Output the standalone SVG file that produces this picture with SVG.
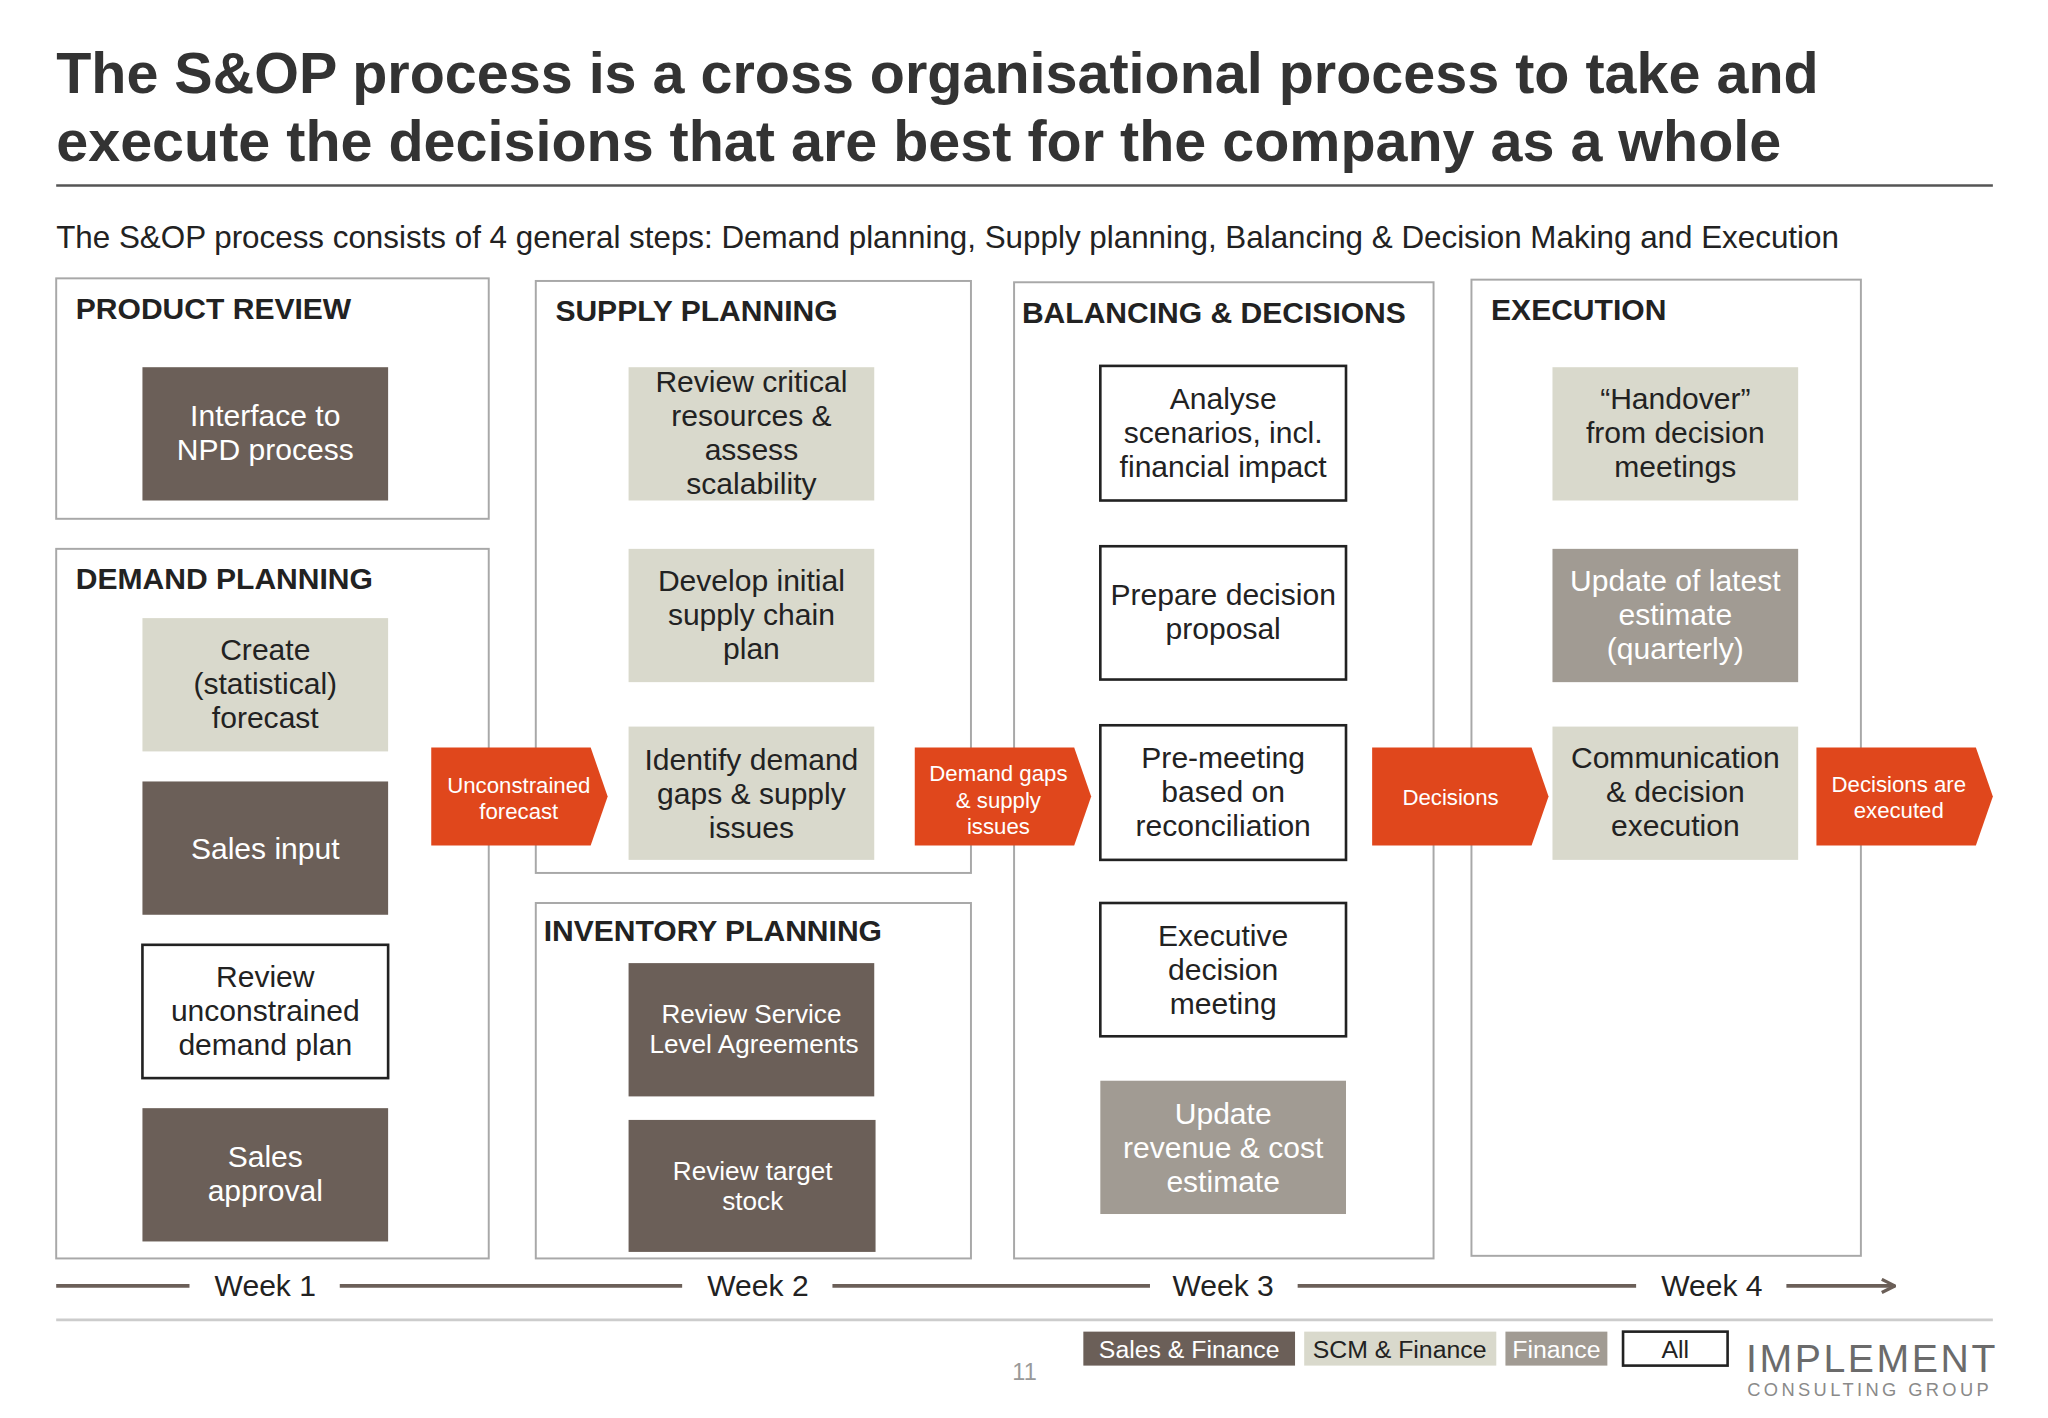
<svg xmlns="http://www.w3.org/2000/svg" width="2048" height="1418" viewBox="0 0 2048 1418">
<style>
text{font-family:"Liberation Sans",Arial,sans-serif;fill:#222}
.t{font-size:44px;font-weight:bold;fill:#333}
.h{font-size:23px;font-weight:bold;fill:#222}
.panel{fill:#fff;stroke:#a8a8a8;stroke-width:1.5}
.b{font-size:23px;text-anchor:middle}
.dk{fill:#6b5f58}.lt{fill:#d9d9cc}.md{fill:#a19b93}.wh{fill:#fff;stroke:#222;stroke-width:2}
.ar{fill:#e0471c}
.a{font-size:17px;text-anchor:middle;fill:#fff}
.wk{font-size:23px;text-anchor:middle}
.tl{stroke:#6b5f58;stroke-width:3;fill:none}
</style>
<defs><marker id="ah" viewBox="0 0 12 12" refX="11" refY="6" markerWidth="12" markerHeight="12" markerUnits="userSpaceOnUse"><path d="M1,1 L11,6 L1,11" fill="none" stroke="#6b5f58" stroke-width="2.5"/></marker></defs>
<rect width="2048" height="1418" fill="#fff"/>
<g transform="scale(1.3068)">
<g id="title">
<text class="t" x="43" y="71">The S&amp;OP process is a cross organisational process to take and</text>
<text class="t" x="43" y="123">execute the decisions that are best for the company as a whole</text>
<line x1="43" y1="142" x2="1525" y2="142" stroke="#555" stroke-width="2"/>
<text x="43" y="190" style="font-size:24px">The S&amp;OP process consists of 4 general steps: Demand planning, Supply planning, Balancing &amp; Decision Making and Execution</text>
</g>
<g id="panels">
<rect class="panel" x="43" y="213" width="331" height="184"/><text class="h" x="58" y="244">PRODUCT REVIEW</text>
<rect class="panel" x="43" y="420" width="331" height="543"/><text class="h" x="58" y="451">DEMAND PLANNING</text>
<rect class="panel" x="410" y="215" width="333" height="453"/><text class="h" x="425" y="246">SUPPLY PLANNING</text>
<rect class="panel" x="410" y="691" width="333" height="272"/><text class="h" x="416" y="720">INVENTORY PLANNING</text>
<rect class="panel" x="776" y="216" width="321" height="747"/><text class="h" x="782" y="247">BALANCING &amp; DECISIONS</text>
<rect class="panel" x="1126" y="214" width="298" height="747"/><text class="h" x="1141" y="245">EXECUTION</text>
</g>
<g id="n1"><rect class="dk" x="109" y="281" width="188" height="102"/><text class="b" x="203" y="326" style="fill:#fff">Interface to</text><text class="b" x="203" y="352" style="fill:#fff">NPD process</text></g>
<g id="n2"><rect class="lt" x="109" y="473" width="188" height="102"/><text class="b" x="203" y="505">Create</text><text class="b" x="203" y="531">(statistical)</text><text class="b" x="203" y="557">forecast</text></g>
<g id="n3"><rect class="dk" x="109" y="598" width="188" height="102"/><text class="b" x="203" y="657" style="fill:#fff">Sales input</text></g>
<g id="n4"><rect class="wh" x="109" y="723" width="188" height="102"/><text class="b" x="203" y="755">Review</text><text class="b" x="203" y="781">unconstrained</text><text class="b" x="203" y="807">demand plan</text></g>
<g id="n5"><rect class="dk" x="109" y="848" width="188" height="102"/><text class="b" x="203" y="893" style="fill:#fff">Sales</text><text class="b" x="203" y="919" style="fill:#fff">approval</text></g>
<g id="n6"><rect class="lt" x="481" y="281" width="188" height="102"/><text class="b" x="575" y="300">Review critical</text><text class="b" x="575" y="326">resources &amp;</text><text class="b" x="575" y="352">assess</text><text class="b" x="575" y="378">scalability</text></g>
<g id="n7"><rect class="lt" x="481" y="420" width="188" height="102"/><text class="b" x="575" y="452">Develop initial</text><text class="b" x="575" y="478">supply chain</text><text class="b" x="575" y="504">plan</text></g>
<g id="n8"><rect class="lt" x="481" y="556" width="188" height="102"/><text class="b" x="575" y="589">Identify demand</text><text class="b" x="575" y="615">gaps &amp; supply</text><text class="b" x="575" y="641">issues</text></g>
<g id="n9"><rect class="dk" x="481" y="737" width="188" height="102"/><text class="b" x="575" y="783" style="fill:#fff;font-size:20px">Review Service</text><text class="b" x="577" y="806" style="fill:#fff;font-size:20px">Level Agreements</text></g>
<g id="n10"><rect class="dk" x="481" y="857" width="189" height="101"/><text class="b" x="576" y="903" style="fill:#fff;font-size:20px">Review target</text><text class="b" x="576" y="926" style="fill:#fff;font-size:20px">stock</text></g>
<g id="n11"><rect class="wh" x="842" y="280" width="188" height="103"/><text class="b" x="936" y="313">Analyse</text><text class="b" x="936" y="339">scenarios, incl.</text><text class="b" x="936" y="365">financial impact</text></g>
<g id="n12"><rect class="wh" x="842" y="418" width="188" height="102"/><text class="b" x="936" y="463">Prepare decision</text><text class="b" x="936" y="489">proposal</text></g>
<g id="n13"><rect class="wh" x="842" y="555" width="188" height="103"/><text class="b" x="936" y="588">Pre-meeting</text><text class="b" x="936" y="614">based on</text><text class="b" x="936" y="640">reconciliation</text></g>
<g id="n14"><rect class="wh" x="842" y="691" width="188" height="102"/><text class="b" x="936" y="724">Executive</text><text class="b" x="936" y="750">decision</text><text class="b" x="936" y="776">meeting</text></g>
<g id="n15"><rect class="md" x="842" y="827" width="188" height="102"/><text class="b" x="936" y="860" style="fill:#fff">Update</text><text class="b" x="936" y="886" style="fill:#fff">revenue &amp; cost</text><text class="b" x="936" y="912" style="fill:#fff">estimate</text></g>
<g id="n16"><rect class="lt" x="1188" y="281" width="188" height="102"/><text class="b" x="1282" y="313">“Handover”</text><text class="b" x="1282" y="339">from decision</text><text class="b" x="1282" y="365">meetings</text></g>
<g id="n17"><rect class="md" x="1188" y="420" width="188" height="102"/><text class="b" x="1282" y="452" style="fill:#fff">Update of latest</text><text class="b" x="1282" y="478" style="fill:#fff">estimate</text><text class="b" x="1282" y="504" style="fill:#fff">(quarterly)</text></g>
<g id="n18"><rect class="lt" x="1188" y="556" width="188" height="102"/><text class="b" x="1282" y="588">Communication</text><text class="b" x="1282" y="614">&amp; decision</text><text class="b" x="1282" y="640">execution</text></g>
<g id="a1"><path class="ar" d="M330,572 H452 L465,609.5 L452,647 H330 Z"/><text class="a" x="397" y="607">Unconstrained</text><text class="a" x="397" y="627">forecast</text></g>
<g id="a2"><path class="ar" d="M700,572 H822 L835,609.5 L822,647 H700 Z"/><text class="a" x="764" y="598">Demand gaps</text><text class="a" x="764" y="618">&amp; supply</text><text class="a" x="764" y="638">issues</text></g>
<g id="a3"><path class="ar" d="M1050,572 H1172 L1185,609.5 L1172,647 H1050 Z"/><text class="a" x="1110" y="616">Decisions</text></g>
<g id="a4"><path class="ar" d="M1390,572 H1512 L1525,609.5 L1512,647 H1390 Z"/><text class="a" x="1453" y="606">Decisions are</text><text class="a" x="1453" y="626">executed</text></g>
<g id="connectors">
<line class="tl" x1="43" y1="984" x2="145" y2="984"/>
<line class="tl" x1="260" y1="984" x2="522" y2="984"/>
<line class="tl" x1="637" y1="984" x2="880" y2="984"/>
<line class="tl" x1="993" y1="984" x2="1252" y2="984"/>
<line class="tl" x1="1367" y1="984" x2="1450" y2="984" marker-end="url(#ah)"/>
</g>
<text class="wk" x="203" y="992">Week 1</text>
<text class="wk" x="580" y="992">Week 2</text>
<text class="wk" x="936" y="992">Week 3</text>
<text class="wk" x="1310" y="992">Week 4</text>
<line x1="43" y1="1010" x2="1525" y2="1010" stroke="#ccc" stroke-width="2"/>
<g id="legend">
<rect class="dk" x="829" y="1019" width="162" height="26"/><text x="910" y="1039" style="font-size:19px;text-anchor:middle;fill:#fff">Sales &amp; Finance</text>
<rect class="lt" x="998" y="1019" width="147" height="26"/><text x="1071" y="1039" style="font-size:19px;text-anchor:middle">SCM &amp; Finance</text>
<rect class="md" x="1152" y="1019" width="78" height="26"/><text x="1191" y="1039" style="font-size:19px;text-anchor:middle;fill:#fff">Finance</text>
<rect class="wh" x="1242" y="1019" width="80" height="26"/><text x="1282" y="1039" style="font-size:19px;text-anchor:middle">All</text>
</g>
<text x="784" y="1056" style="font-size:18px;text-anchor:middle;fill:#999">11</text>
<text x="1336" y="1050" style="font-size:30px;fill:#6b6b6b;letter-spacing:2px">IMPLEMENT</text>
<text x="1337" y="1068" style="font-size:14px;fill:#8a8a8a;letter-spacing:2.6px">CONSULTING GROUP</text>
</g>
</svg>
